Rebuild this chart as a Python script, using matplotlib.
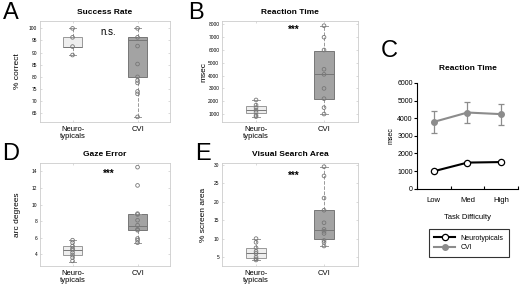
import numpy as np
import matplotlib.pyplot as plt
from matplotlib.lines import Line2D

plt.rcParams['font.family'] = ['Liberation Sans', 'DejaVu Sans']

groups = ['Neuro-\ntypicals', 'CVI']

# box stats: (whislo, q1, med, q3, whishi)
success_stats = [(89, 92.5, 92.5, 96.3, 100), (63.4, 80, 95, 96.3, 100)]
success_pts = [[100, 96.3, 92.5, 89], [100, 96.3, 92.7, 85.3, 80, 78.5, 77.5, 74, 73, 63.5]]

rt_stats = [(800, 1050, 1300, 1600, 2100), (1000, 2200, 4100, 5900, 7900)]
rt_pts = [[2100, 1700, 1500, 1300, 1150, 900, 800],
          [7900, 7000, 6000, 4500, 4100, 3000, 2200, 1500, 1000]]

gaze_stats = [(3.1, 3.9, 4.5, 5.0, 5.7), (5.4, 6.9, 7.4, 8.8, 8.9)]
gaze_pts = [[5.7, 5.4, 5.0, 4.7, 4.5, 4.2, 3.9, 3.6, 3.2],
            [14.5, 12.3, 8.9, 8.8, 8.1, 7.5, 7.0, 6.9, 5.9, 5.7, 5.4]]

area_stats = [(4.2, 4.8, 6.2, 7.4, 10), (8.0, 9.8, 12.3, 17.7, 29.5)]
area_pts = [[10, 9, 7.5, 6.5, 6, 5, 4.5, 4.2],
            [29.5, 27, 21, 17.7, 14.3, 12.5, 12, 11.4, 9.5, 9, 8]]

difficulty = ['Low', 'Med', 'High']
nt_rt = [990, 1480, 1510]
cvi_rt = [3790, 4320, 4230]
cvi_lo = [3180, 3715, 3620]
cvi_hi = [4415, 4945, 4830]

fig = plt.figure(figsize=(5.2, 2.85), dpi=100)


def box_panel(rect, stats, pts, title, ylabel, label_x, yticks, ylim, letter, letter_x, note, note_y):
    ax = fig.add_axes(rect)
    bxp_stats = []
    for s in stats:
        bxp_stats.append(dict(whislo=s[0], q1=s[1], med=s[2], q3=s[3], whishi=s[4], fliers=[]))
    b = ax.bxp(bxp_stats, positions=[1, 2], widths=0.3, patch_artist=True,
               whiskerprops=dict(color='#999999', linestyle='--', lw=0.7),
               capprops=dict(color='#999999', lw=0.7),
               medianprops=dict(color='#777777', lw=0.7),
               boxprops=dict(lw=0.7), capwidths=0.12)
    b['boxes'][0].set_facecolor('#eeeeee')
    b['boxes'][0].set_edgecolor('#999999')
    b['boxes'][1].set_facecolor('#a3a3a3')
    b['boxes'][1].set_edgecolor('#777777')
    for i, p in enumerate(pts):
        ax.scatter(np.full(len(p), i + 1), p, s=7, facecolors='none',
                   edgecolors='#777777', linewidths=0.6, zorder=4)
    ax.set_xlim(0.5, 2.5)
    ax.set_ylim(*ylim)
    ax.set_yticks(yticks)
    ax.set_yticklabels([str(t) for t in yticks], fontsize=3.5)
    ax.set_xticks([1, 2])
    ax.set_xticklabels(groups, fontsize=5.5, linespacing=0.9)
    ax.tick_params(direction='in', length=1.5, color='#cccccc', width=0.5,
                   top=True, right=True, pad=2)
    ax.tick_params(axis='x', pad=3)
    for sp in ax.spines.values():
        sp.set_color('#cccccc')
        sp.set_linewidth(0.6)
    ax.set_title(title, fontsize=6, fontweight='bold', pad=5)
    ax.set_ylabel(ylabel, fontsize=6)
    ax.yaxis.set_label_coords(label_x, 0.5)
    ax.text(1.55, note_y, note, fontsize=7, ha='center', va='center',
            fontweight='bold' if note == '***' else 'normal')
    ax.text(letter_x, 1.085, letter, transform=ax.transAxes, fontsize=17,
            ha='left', va='center')
    return ax


box_panel([0.077, 0.572, 0.25, 0.354], success_stats, success_pts, 'Success Rate',
          '% correct', -0.15, [65, 70, 75, 80, 85, 90, 95, 100], (61.4, 103), 'A', -0.285, 'n.s.', 98.5)
box_panel([0.427, 0.572, 0.2615, 0.354], rt_stats, rt_pts, 'Reaction Time',
          'msec', -0.11, [1000, 2000, 3000, 4000, 5000, 6000, 7000, 8000], (380, 8260), 'B', -0.25, '***', 7600)
box_panel([0.077, 0.067, 0.25, 0.361], gaze_stats, gaze_pts, 'Gaze Error',
          'arc degrees', -0.15, [4, 6, 8, 10, 12, 14], (2.6, 15), 'D', -0.29, '***', 13.7)
box_panel([0.427, 0.067, 0.2615, 0.361], area_stats, area_pts, 'Visual Search Area',
          '% screen area', -0.11, [5, 10, 15, 20, 25, 30], (2.6, 30.5), 'E', -0.2, '***', 27)

# panel C
axc = fig.add_axes([0.802, 0.338, 0.194, 0.371])
x = np.arange(len(difficulty)) + 0.5
cvi_err = [np.array(cvi_rt) - np.array(cvi_lo), np.array(cvi_hi) - np.array(cvi_rt)]
axc.errorbar(x, cvi_rt, yerr=cvi_err, color='#8c8c8c', lw=1.5, marker='o', ms=4,
             mfc='#8c8c8c', mec='#8c8c8c', capsize=2, elinewidth=0.9, capthick=0.9,
             zorder=3)
axc.plot(x, nt_rt, color='black', lw=1.5, marker='o', ms=4.5, mfc='white',
         mec='black', mew=0.9, zorder=4)
axc.set_xlim(0, 3)
axc.set_ylim(0, 6000)
axc.set_yticks(range(0, 6001, 1000))
axc.set_yticklabels([str(v) for v in range(0, 6001, 1000)], fontsize=5)
axc.set_xticks([0, 1, 2, 3])
axc.set_xticklabels([])
axc.set_xticks(x, minor=True)
axc.set_xticklabels(difficulty, minor=True, fontsize=5.5)
axc.tick_params(axis='x', which='minor', length=0, pad=6)
axc.tick_params(axis='x', which='major', direction='in', length=2, width=0.8)
axc.tick_params(axis='y', direction='out', length=2, width=0.8, pad=1)
axc.spines['top'].set_visible(False)
axc.spines['right'].set_visible(False)
axc.spines['left'].set_linewidth(0.8)
axc.spines['bottom'].set_linewidth(0.8)
axc.set_ylabel('msec', fontsize=5, labelpad=2)
axc.set_xlabel('Task Difficulty', fontsize=5.5, labelpad=7)
axc.set_title('Reaction Time', fontsize=6, fontweight='bold', pad=9)
axc.text(-0.36, 1.3, 'C', transform=axc.transAxes, fontsize=17, ha='left', va='center')
handles = [Line2D([], [], color='black', lw=1.5, marker='o', ms=4.5, mfc='white', mec='black', mew=0.9),
           Line2D([], [], color='#8c8c8c', lw=1.5, marker='o', ms=4, mfc='#8c8c8c', mec='#8c8c8c')]
leg = axc.legend(handles, ['Neurotypicals', 'CVI'], loc='upper left', bbox_to_anchor=(0.08, -0.35),
                 fontsize=5, frameon=True, fancybox=False, edgecolor='black',
                 handlelength=3, borderpad=0.8, labelspacing=0.4)
leg.get_frame().set_linewidth(0.8)

fig.savefig('out.png', dpi=100)
